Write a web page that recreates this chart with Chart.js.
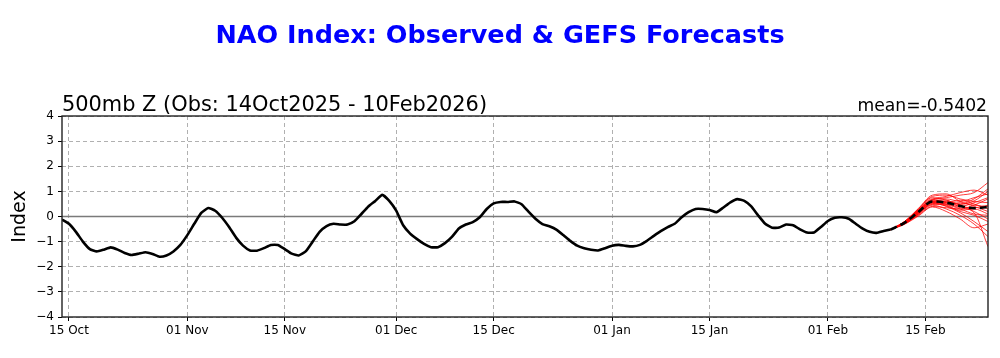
<!DOCTYPE html>
<html><head><meta charset="utf-8">
<script src="https://cdn.jsdelivr.net/npm/chart.js@4/dist/chart.umd.min.js"></script>
<style>html,body{margin:0;padding:0;background:#fff}#wrap{width:1000px;height:358px}</style>
</head><body><div id="wrap"><canvas id="c" width="1000" height="358"></canvas></div>
<script>
// ---- data (x = days since 14 Oct 2025) ----
const mainTitle = 'NAO Index: Observed & GEFS Forecasts';
const subTitle = '500mb Z (Obs: 14Oct2025 - 10Feb2026)';
const meanText = 'mean=-0.5402';
const yAxisTitle = 'Index';
const xMinDay = 0;
const xMaxDay = 133;
const tickDays = [1, 18, 32, 48, 62, 79, 93, 110, 124];
const tickLabels = ['15 Oct', '01 Nov', '15 Nov', '01 Dec', '15 Dec', '01 Jan', '15 Jan', '01 Feb', '15 Feb'];
const yTicks = [-4, -3, -2, -1, 0, 1, 2, 3, 4];

// observed daily NAO index, day 0 (14 Oct) .. day 119 (10 Feb)
const obsValues = [
 -0.12,-0.29,-0.61,-1.00,-1.30,-1.39,-1.32,-1.23,-1.32,-1.45,
 -1.53,-1.48,-1.42,-1.49,-1.60,-1.55,-1.39,-1.13,-0.74,-0.29,
  0.14, 0.34, 0.23,-0.05,-0.42,-0.84,-1.16,-1.35,-1.36,-1.26,
 -1.13,-1.13,-1.30,-1.48,-1.55,-1.39,-1.00,-0.61,-0.38,-0.29,
 -0.32,-0.32,-0.19, 0.10, 0.40, 0.62, 0.86, 0.62, 0.23,-0.35,
 -0.68,-0.90,-1.09,-1.22,-1.22,-1.06,-0.81,-0.48,-0.32,-0.22,
 -0.03, 0.30, 0.52, 0.58, 0.58, 0.60, 0.49, 0.19,-0.09,-0.30,
 -0.39,-0.52,-0.74,-0.97,-1.16,-1.26,-1.32,-1.35,-1.26,-1.16,
 -1.13,-1.17,-1.19,-1.13,-0.97,-0.77,-0.58,-0.42,-0.29,-0.03,
  0.17, 0.30, 0.30, 0.26, 0.17, 0.36, 0.56, 0.69, 0.62, 0.40,
  0.04,-0.29,-0.45,-0.44,-0.32,-0.35,-0.51,-0.64,-0.64,-0.42,
 -0.18,-0.05,-0.03,-0.09,-0.29,-0.48,-0.61,-0.65,-0.58,-0.52
];

// GEFS forecast days and members
const fcstDays = [119, 121, 123, 125, 127, 129, 131, 133];
const fcstMean = [-0.52, -0.25, 0.18, 0.60, 0.55, 0.42, 0.33, 0.38];
const member01 = [-0.52,-0.25,0.20,0.62,0.55,0.40,0.35,0.45];
const member02 = [-0.52,-0.22,0.25,0.70,0.70,0.60,0.75,0.90];
const member03 = [-0.52,-0.28,0.10,0.50,0.45,0.20,0.05,-0.20];
const member04 = [-0.52,-0.20,0.30,0.80,0.85,0.70,0.60,0.55];
const member05 = [-0.52,-0.30,0.05,0.40,0.35,0.30,0.45,0.70];
const member06 = [-0.52,-0.24,0.18,0.58,0.60,0.45,0.20,-0.10];
const member07 = [-0.52,-0.26,0.12,0.55,0.40,0.15,-0.20,-0.60];
const member08 = [-0.52,-0.21,0.28,0.75,0.65,0.50,0.70,1.10];
const member09 = [-0.52,-0.27,0.15,0.48,0.50,0.55,0.40,0.20];
const member10 = [-0.52,-0.23,0.22,0.65,0.75,0.85,0.95,1.35];
const member11 = [-0.52,-0.29,0.08,0.45,0.30,0.05,-0.30,-0.80];
const member12 = [-0.52,-0.25,0.20,0.60,0.55,0.65,0.50,0.30];
const member13 = [-0.52,-0.22,0.26,0.68,0.80,0.95,1.05,0.85];
const member14 = [-0.52,-0.28,0.10,0.52,0.42,0.25,0.30,0.10];
const member15 = [-0.52,-0.24,0.17,0.57,0.50,0.35,0.15,-1.20];
const member16 = [-0.52,-0.26,0.14,0.60,0.65,0.40,0.55,0.75];
const member17 = [-0.52,-0.20,0.32,0.85,0.90,0.60,0.45,0.40];
const member18 = [-0.52,-0.31,0.02,0.38,0.20,-0.10,-0.45,-0.30];
const member19 = [-0.52,-0.23,0.24,0.66,0.58,0.48,0.62,1.00];
const member20 = [-0.52,-0.25,0.19,0.56,0.48,0.30,0.10,0.05];
const members = [member01,member02,member03,member04,member05,member06,member07,member08,member09,member10,
                 member11,member12,member13,member14,member15,member16,member17,member18,member19,member20];

// ---- build chart ----
const FONT = '"DejaVu Sans", sans-serif';
const datasets = [];
datasets.push({
  label: 'Observed',
  data: obsValues.map((v, i) => ({ x: xMinDay + i, y: v })),
  borderColor: '#000', borderWidth: 2.6, pointRadius: 0, tension: 0.15, order: 0
});
datasets.push({
  label: 'Mean',
  data: fcstDays.map((d, i) => ({ x: d, y: fcstMean[i] })),
  borderColor: '#000', borderWidth: 2.6, borderDash: [7, 4], pointRadius: 0,
  cubicInterpolationMode: 'monotone', order: 1
});
members.forEach((m, k) => datasets.push({
  label: 'm' + (k + 1),
  data: fcstDays.map((d, i) => ({ x: d, y: m[i] })),
  borderColor: 'rgba(255,0,0,0.85)', borderWidth: 0.9, pointRadius: 0,
  cubicInterpolationMode: 'monotone', order: 2
}));

const decor = {
  id: 'decor',
  beforeDatasetsDraw(chart) {
    const { ctx, chartArea: a, scales: { y } } = chart;
    const y0 = y.getPixelForValue(0);
    ctx.save();
    ctx.strokeStyle = '#7a7a7a';
    ctx.lineWidth = 1.5;
    ctx.beginPath(); ctx.moveTo(a.left, y0); ctx.lineTo(a.right, y0); ctx.stroke();
    ctx.restore();
  },
  afterDraw(chart) {
    const { ctx, chartArea: a } = chart;
    ctx.save();
    ctx.strokeStyle = '#222';
    ctx.lineWidth = 1.4;
    ctx.strokeRect(a.left, a.top, a.right - a.left, a.bottom - a.top);
    ctx.fillStyle = '#0000ff';
    ctx.font = 'bold 25.5px ' + FONT;
    ctx.textAlign = 'center'; ctx.textBaseline = 'alphabetic';
    ctx.fillText(mainTitle, 500, 43);
    ctx.fillStyle = '#000';
    ctx.font = '20.9px ' + FONT;
    ctx.textAlign = 'left';
    ctx.fillText(subTitle, a.left, 110.5);
    ctx.font = '17.2px ' + FONT;
    ctx.textAlign = 'right';
    ctx.fillText(meanText, a.right - 1, 110.5);
    ctx.translate(20, (a.top + a.bottom) / 2);
    ctx.rotate(-Math.PI / 2);
    ctx.textAlign = 'center'; ctx.textBaseline = 'middle';
    ctx.font = '19px ' + FONT;
    ctx.fillText(yAxisTitle, 0, 0);
    ctx.restore();
  }
};

new Chart(document.getElementById('c'), {
  type: 'line',
  data: { datasets },
  options: {
    responsive: false, animation: false, maintainAspectRatio: false,
    layout: { padding: { left: 0, right: 12, top: 116, bottom: 0 } },
    plugins: { legend: { display: false }, tooltip: { enabled: false }, title: { display: false } },
    scales: {
      x: {
        type: 'linear', min: xMinDay, max: xMaxDay,
        afterFit: s => { s.height = 41; },
        afterBuildTicks: s => { s.ticks = tickDays.map(v => ({ value: v })); },
        ticks: { autoSkip: false, maxRotation: 0, color: '#000', font: { family: FONT, size: 12 }, padding: 3,
                 callback: v => { const i = tickDays.indexOf(v); return i >= 0 ? tickLabels[i] : ''; } },
        grid: { color: '#b0b0b0', lineWidth: 1, tickLength: 4, tickColor: '#000', tickWidth: 1, tickBorderDash: [] },
        border: { display: false, dash: [4, 3] }
      },
      y: {
        min: -4, max: 4,
        afterFit: s => { s.width = 62; },
        afterBuildTicks: s => { s.ticks = yTicks.map(v => ({ value: v })); },
        ticks: { color: '#000', font: { family: FONT, size: 12 }, padding: 4,
                 callback: v => (v < 0 ? '\u2212' + Math.abs(v) : String(v)) },
        grid: { color: '#b0b0b0', lineWidth: 1, tickLength: 4, tickColor: '#000', tickWidth: 1, tickBorderDash: [] },
        border: { display: false, dash: [4, 3] }
      }
    }
  },
  plugins: [decor]
});
</script></body></html>
